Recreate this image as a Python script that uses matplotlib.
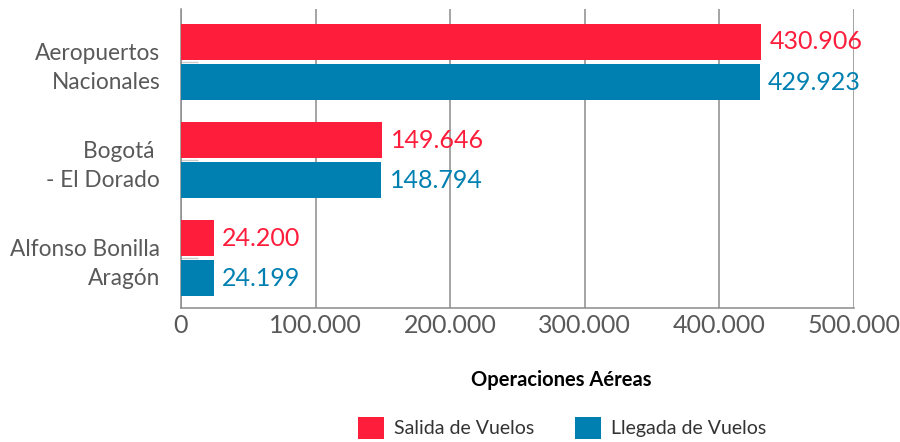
import matplotlib
matplotlib.use("Agg")
import matplotlib.pyplot as plt
import numpy as np
from matplotlib.patches import Patch

categories = ["Aeropuertos\nNacionales", "Bogotá \n- El Dorado", "Alfonso Bonilla\nAragón"]
salida = [430906, 149646, 24200]
llegada = [429923, 148794, 24199]
series_names = ["Salida de Vuelos", "Llegada de Vuelos"]
xticks = [0, 100000, 200000, 300000, 400000, 500000]
xtick_labels = ["0", "100.000", "200.000", "300.000", "400.000", "500.000"]
xlabel = "Operaciones Aéreas"

RED = "#FE1D3A"
BLUE = "#0080B1"
GRID = "#8c8c8c"
TXT = "#595959"

plt.rcParams['font.family'] = ['Lato', 'DejaVu Sans']

def fmt(v):
    return f"{v:,}".replace(",", ".")

fig = plt.figure(figsize=(9, 4.42), dpi=100)
ax = fig.add_axes([181/900, 1 - 308/442, (854-181)/900, (308-9)/442])

y = np.arange(len(categories))
h = 0.367
off = 0.204
ax.barh(y - off, salida, height=h, color=RED, zorder=3)
ax.barh(y + off, llegada, height=h, color=BLUE, zorder=3)

for yi, v in zip(y, salida):
    ax.annotate(fmt(v), (v, yi - off), xytext=(6, 0), textcoords="offset points",
                ha="left", va="center", fontsize=18, color=RED)
for yi, v in zip(y, llegada):
    ax.annotate(fmt(v), (v, yi + off), xytext=(6, 0), textcoords="offset points",
                ha="left", va="center", fontsize=18, color=BLUE)

ax.set_xlim(0, 500000)
ax.set_ylim(2.505, -0.54)
ax.set_xticks(xticks)
ax.set_xticklabels(xtick_labels, fontsize=18, color=TXT)
ax.set_yticks(y)
ax.set_yticklabels(categories, fontsize=16.3, color=TXT, linespacing=1.45)
ax.tick_params(axis="x", length=0, pad=4)
ax.tick_params(axis="y", direction="in", length=12, width=1, color="#cccccc", pad=15)

ax.xaxis.grid(True, color=GRID, linewidth=1.1, zorder=0)
ax.set_axisbelow(True)
for s in ["top", "right"]:
    ax.spines[s].set_visible(False)
for s in ["left", "bottom"]:
    ax.spines[s].set_color(GRID)
    ax.spines[s].set_linewidth(1.1)

fig.text(561/900, 1 - 380/442, xlabel, ha="center", va="center",
         fontsize=14.5, fontweight="bold", color="black")

handles = [Patch(facecolor=RED), Patch(facecolor=BLUE)]
fig.legend(handles, series_names, loc="center", bbox_to_anchor=(562/900, 1 - 428/442),
           ncol=2, frameon=False, fontsize=14, handlelength=1.34, handleheight=1.34,
           handletextpad=0.5, columnspacing=2.1, labelcolor="#333333",
           borderaxespad=0, borderpad=0)

fig.savefig("out.png", dpi=100)
